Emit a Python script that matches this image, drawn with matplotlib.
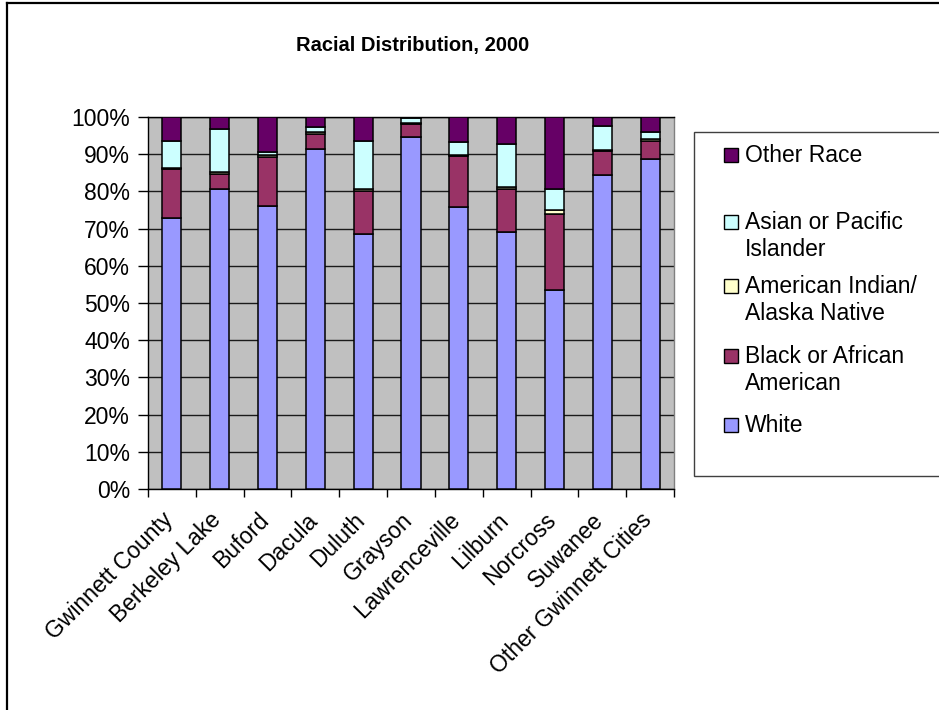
import matplotlib.pyplot as plt
import numpy as np
from matplotlib.patches import Rectangle
from matplotlib.lines import Line2D
from matplotlib.transforms import ScaledTranslation

plt.rcParams['font.family'] = ['Liberation Sans', 'DejaVu Sans']

places = ["Gwinnett County", "Berkeley Lake", "Buford", "Dacula", "Duluth",
          "Grayson", "Lawrenceville", "Lilburn", "Norcross", "Suwanee",
          "Other Gwinnett Cities"]

# percent of population by race
white = [72.8, 80.6, 76.2, 91.4, 68.6, 94.5, 75.8, 69.1, 53.4, 84.3, 88.7]
black = [13.2, 4.1, 13.0, 4.1, 11.6, 3.6, 13.8, 11.5, 20.5, 6.6, 4.9]
am_indian = [0.3, 0.5, 0.5, 0.4, 0.4, 0.3, 0.3, 0.6, 1.1, 0.3, 0.6]
asian = [7.3, 11.6, 0.8, 1.5, 13.0, 1.2, 3.3, 11.6, 5.6, 6.5, 1.8]
other = [6.4, 3.2, 9.5, 2.6, 6.4, 0.4, 6.8, 7.2, 19.4, 2.3, 4.0]

series = [
    ("White", white, "#9999FF"),
    ("Black or African\nAmerican", black, "#993366"),
    ("American Indian/\nAlaska Native", am_indian, "#FFFFCC"),
    ("Asian or Pacific\nIslander", asian, "#CCFFFF"),
    ("Other Race", other, "#660066"),
]

W, H = 939, 710
FS = 16.5
fig = plt.figure(figsize=(W / 100, H / 100), dpi=100)
ax = fig.add_axes([148 / W, 1 - 489 / H, 526 / W, 372 / H])
ax.set_facecolor("#C0C0C0")

x = np.arange(len(places))
bottom = np.zeros(len(places))
for name, vals, col in series:
    ax.bar(x, vals, 0.4, bottom=bottom, color=col, edgecolor="black",
           linewidth=1.1, zorder=3)
    bottom += np.array(vals)

ax.set_xlim(-0.5, len(places) - 0.5)
ax.set_ylim(0, 100)
ax.set_yticks(np.arange(0, 101, 10))
ax.set_yticklabels([f"{v}%" for v in range(0, 101, 10)], fontsize=FS)
ax.yaxis.grid(True, color="#1a1a1a", linewidth=1, zorder=1)
ax.set_axisbelow(True)
ax.tick_params(axis="y", direction="out", length=7, width=1, pad=6)

ax.set_xticks(x)
ax.set_xticklabels(places, fontsize=FS, rotation=45, ha="right",
                   va="top", rotation_mode="anchor")
ax.tick_params(axis="x", which="major", length=0, pad=14)
shift = ScaledTranslation(-10 / 100, 0, fig.dpi_scale_trans)
for lab in ax.get_xticklabels():
    lab.set_transform(lab.get_transform() + shift)
ax.set_xticks(np.arange(-0.5, len(places), 1), minor=True)
ax.tick_params(axis="x", which="minor", direction="out", length=6, width=1)

for s in ["left", "bottom", "top"]:
    ax.spines[s].set_color("black")
    ax.spines[s].set_linewidth(1)
ax.spines["right"].set_color("#808080")
ax.spines["right"].set_linewidth(1)

fig.text(413 / W, 1 - 46 / H, "Racial Distribution, 2000", fontsize=14.5,
         fontweight="bold", ha="center", va="center")

# legend drawn by hand so each entry sits on a two-line slot
fig.patches.append(Rectangle((694 / W, 1 - 476 / H), (W - 694 + 20) / W,
                             (476 - 132) / H, transform=fig.transFigure,
                             facecolor="white", edgecolor="#404040",
                             linewidth=1, zorder=1))
rows = [155, 222, 286, 356, 425]
for (name, vals, col), yc in zip(series[::-1], rows):
    fig.patches.append(Rectangle((724 / W, 1 - (yc + 7) / H), 14 / W, 14 / H,
                                 transform=fig.transFigure, facecolor=col,
                                 edgecolor="black", linewidth=1, zorder=2))
    fig.text(745 / W, 1 - (yc - 11) / H, name, fontsize=FS, ha="left",
             va="top", linespacing=1.2, zorder=3)

# outer chart border
fig.add_artist(Line2D([7 / W, 7 / W], [0, 1 - 3 / H], color="black",
                      linewidth=1.6, transform=fig.transFigure))
fig.add_artist(Line2D([7 / W, 1], [1 - 3 / H, 1 - 3 / H], color="black",
                      linewidth=1.6, transform=fig.transFigure))

fig.savefig("out.png", dpi=100)
